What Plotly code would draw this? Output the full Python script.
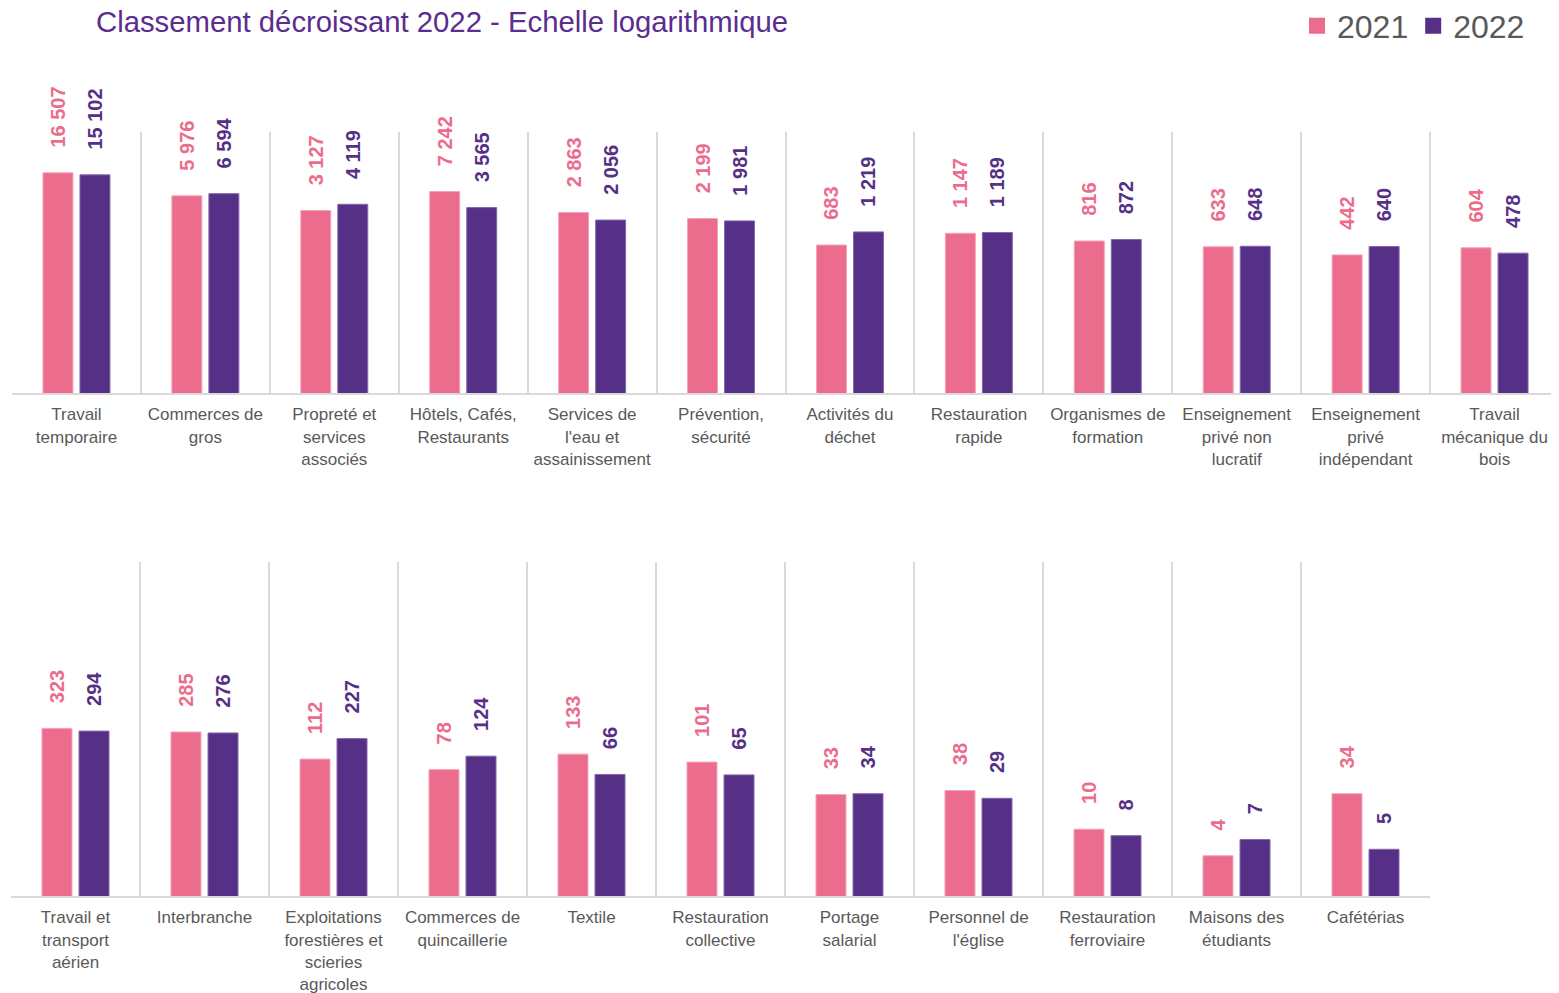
import plotly.graph_objects as go

# top row (12 sectors) and bottom row (11 sectors)
top_labels = [
    "Travail<br>temporaire", "Commerces de<br>gros", "Propreté et<br>services<br>associés",
    "Hôtels, Cafés,<br>Restaurants", "Services de<br>l'eau et<br>assainissement",
    "Prévention,<br>sécurité", "Activités du<br>déchet", "Restauration<br>rapide",
    "Organismes de<br>formation", "Enseignement<br>privé non<br>lucratif",
    "Enseignement<br>privé<br>indépendant", "Travail<br>mécanique du<br>bois",
]
top_2021 = [16507, 5976, 3127, 7242, 2863, 2199, 683, 1147, 816, 633, 442, 604]
top_2022 = [15102, 6594, 4119, 3565, 2056, 1981, 1219, 1189, 872, 648, 640, 478]

bottom_labels = [
    "Travail et<br>transport<br>aérien", "Interbranche",
    "Exploitations<br>forestières et<br>scieries<br>agricoles", "Commerces de<br>quincaillerie",
    "Textile", "Restauration<br>collective", "Portage<br>salarial", "Personnel de<br>l'église",
    "Restauration<br>ferroviaire", "Maisons des<br>étudiants", "Cafétérias",
]
bottom_2021 = [323, 285, 112, 78, 133, 101, 33, 38, 10, 4, 34]
bottom_2022 = [294, 276, 227, 124, 66, 65, 34, 29, 8, 7, 5]

PINK = "#EC6C8D"
PURPLE = "#563087"
GRID = "#D9D9D9"
GREY = "#595959"
FONT = "Arial, Liberation Sans, sans-serif"

# the page body adds an 8px margin, so the figure is slightly smaller than the window
OFF = 8
W, H = 1559 - OFF, 993 - OFF


def px(x):
    return (x - OFF) / W


def py(y):
    return 1 - (y - OFF) / H


def fmt(v):
    return "\u00a0" * 4 + f"{v:,}".replace(",", " ")


def bar(x, y, color, edge, xa, ya):
    return go.Bar(
        x=x, y=y, xaxis=xa, yaxis=ya,
        marker=dict(color=color, line=dict(color=edge, width=1)),
        text=[fmt(v) for v in y],
        textposition="outside",
        textangle=-90,
        constraintext="none",
        cliponaxis=False,
        textfont=dict(family=FONT, size=20, color=color, weight="bold"),
        showlegend=False,
        hoverinfo="skip",
    )


fig = go.Figure()
fig.add_trace(bar(top_labels, top_2021, PINK, "#F4A3B8", "x", "y"))
fig.add_trace(bar(top_labels, top_2022, PURPLE, "#8467AC", "x", "y"))
fig.add_trace(bar(bottom_labels, bottom_2021, PINK, "#F4A3B8", "x2", "y2"))
fig.add_trace(bar(bottom_labels, bottom_2022, PURPLE, "#8467AC", "x2", "y2"))

# legend entries
for name, color in [("2021", PINK), ("2022", PURPLE)]:
    fig.add_trace(go.Scatter(
        x=[None], y=[None], name=name, mode="markers",
        marker=dict(symbol="square", size=16, color=color),
        xaxis="x", yaxis="y",
    ))

xaxis_common = dict(
    type="category",
    tickson="boundaries",
    showgrid=True, gridcolor=GRID, gridwidth=2,
    showline=True, linecolor=GRID, linewidth=2,
    ticks="", ticklabelstandoff=5, tickangle=0,
    tickfont=dict(family=FONT, size=17, color=GREY),
    automargin=False, fixedrange=True,
)
yaxis_common = dict(
    type="log", range=[0, 5],
    showgrid=False, showticklabels=False, zeroline=False, showline=False,
    ticks="", automargin=False, fixedrange=True,
)

fig.update_layout(
    width=W, height=H,
    margin=dict(l=0, r=0, t=0, b=0, autoexpand=False),
    paper_bgcolor="white", plot_bgcolor="white",
    barmode="group", bargap=0.426, bargroupgap=0.19,
    font=dict(family=FONT, color=GREY),
    title=dict(
        text="Classement décroissant 2022 - Echelle logarithmique",
        font=dict(family=FONT, size=29.3, color="#5B2D8E"),
        x=px(96), xanchor="left", xref="paper",
        y=1.0, yanchor="top", yref="paper",
        pad=dict(t=3),
        automargin=False,
    ),
    legend=dict(
        orientation="h",
        x=px(1530), xanchor="right",
        y=py(26), yanchor="middle",
        font=dict(family=FONT, size=32, color=GREY),
        bgcolor="rgba(0,0,0,0)",
        itemclick=False, itemdoubleclick=False,
    ),
    xaxis=dict(xaxis_common, domain=[px(12), 1.0], anchor="y",
               categoryorder="array", categoryarray=top_labels),
    yaxis=dict(yaxis_common, domain=[py(393), py(132)], anchor="x"),
    xaxis2=dict(xaxis_common, domain=[px(11), px(1430)], anchor="y2",
                categoryorder="array", categoryarray=bottom_labels),
    yaxis2=dict(yaxis_common, domain=[py(896), py(562)], anchor="x2"),
)

fig.write_html("out.html")
